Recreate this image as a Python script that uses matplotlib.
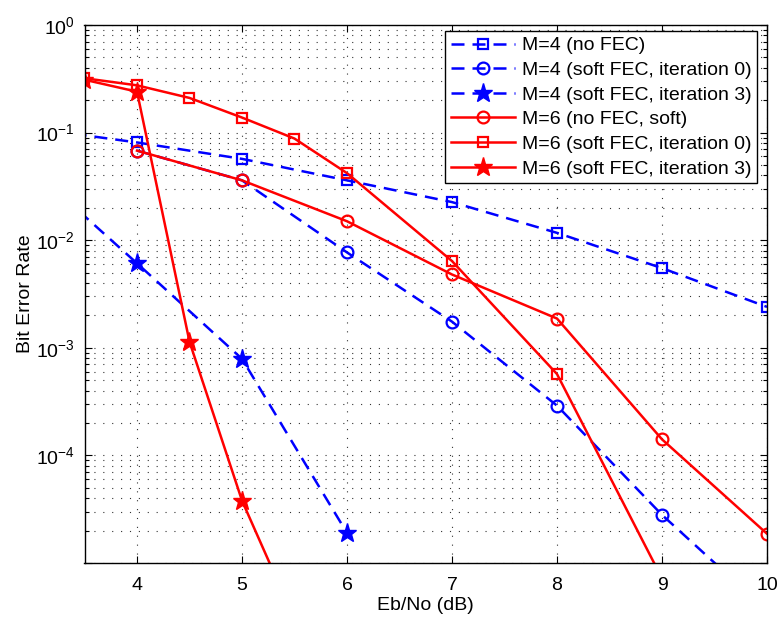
import matplotlib
matplotlib.use("Agg")
import matplotlib.pyplot as plt
from matplotlib.ticker import LogLocator, NullFormatter, FixedLocator, FuncFormatter
import numpy as np

plt.rcParams['font.family'] = ['Liberation Sans', 'DejaVu Sans']
plt.rcParams['mathtext.fontset'] = 'custom'
plt.rcParams['mathtext.rm'] = 'Liberation Sans'

# ---- data ----
x_m4_nofec = [3, 4, 5, 6, 7, 8, 9, 10]
y_m4_nofec = [0.11, 0.081, 0.057, 0.036, 0.0226, 0.0117, 0.0055, 0.0024]

x_m4_it0 = [4, 5, 6, 7, 8, 9, 10]
y_m4_it0 = [0.068, 0.036, 0.0077, 0.00175, 0.00029, 2.8e-5, 3.6e-6]

x_m4_it3 = [3, 4, 5, 6]
y_m4_it3 = [0.046, 0.0061, 0.00079, 1.9e-5]

x_m6_nofec = [4, 5, 6, 7, 8, 9, 10]
y_m6_nofec = [0.068, 0.036, 0.015, 0.0048, 0.00187, 0.000141, 1.87e-5]

x_m6_it0 = [3.5, 4, 4.5, 5, 5.5, 6, 7, 8, 9]
y_m6_it0 = [0.32, 0.275, 0.21, 0.138, 0.088, 0.042, 0.0064, 0.00057, 7.2e-6]

x_m6_it3 = [3.5, 4, 4.5, 5, 5.5]
y_m6_it3 = [0.31, 0.24, 0.00114, 3.8e-5, 3.0e-6]

labels = ["M=4 (no FEC)", "M=4 (soft FEC, iteration 0)", "M=4 (soft FEC, iteration 3)",
          "M=6 (no FEC, soft)", "M=6 (soft FEC, iteration 0)", "M=6 (soft FEC, iteration 3)"]
xticks = [4, 5, 6, 7, 8, 9, 10]

fig = plt.figure(figsize=(7.78, 6.17), dpi=100)
ax = fig.add_axes([84.5/778, 1-563/617, (767-84.5)/778, (563-25)/617])

blue = (0, 0, 1)
red = (1, 0, 0)
lw = 1.8
dash = (0, (5.2, 3.2))
mew = 1.6
fs = 14

ax.semilogy(x_m4_nofec, y_m4_nofec, linestyle=dash, color=blue, lw=lw, marker='s',
            ms=7.5, mfc='none', mew=mew, label=labels[0])
ax.semilogy(x_m4_it0, y_m4_it0, linestyle=dash, color=blue, lw=lw, marker='o',
            ms=8.5, mfc='none', mew=mew, label=labels[1])
ax.semilogy(x_m4_it3, y_m4_it3, linestyle=dash, color=blue, lw=lw, marker='*',
            ms=14, mfc=blue, mew=1, label=labels[2])
ax.semilogy(x_m6_nofec, y_m6_nofec, linestyle='-', color=red, lw=lw, marker='o',
            ms=8.5, mfc='none', mew=mew, label=labels[3])
ax.semilogy(x_m6_it0, y_m6_it0, linestyle='-', color=red, lw=lw, marker='s',
            ms=7.5, mfc='none', mew=mew, label=labels[4])
ax.semilogy(x_m6_it3, y_m6_it3, linestyle='-', color=red, lw=lw, marker='*',
            ms=14, mfc=red, mew=1, label=labels[5])

ax.set_xlim(3.5, 10)
ax.set_ylim(1e-5, 1)
ax.xaxis.set_major_locator(FixedLocator(xticks))
ax.yaxis.set_major_locator(LogLocator(base=10, numticks=10))
ax.yaxis.set_minor_locator(LogLocator(base=10, subs=range(2, 10), numticks=20))
ax.yaxis.set_minor_formatter(NullFormatter())

def yfmt(v, pos):
    e = int(round(np.log10(v)))
    if e < -4:
        return ""
    return r"$\mathdefault{10^{%d}}$" % e if e < 0 else r"$\mathdefault{10^{0}}$"
ax.yaxis.set_major_formatter(FuncFormatter(yfmt))

ax.tick_params(which='both', direction='in', top=True, right=True, labelsize=fs, width=0.8)
ax.tick_params(which='major', length=5)
ax.tick_params(axis='y', which='major', pad=7)
ax.tick_params(axis='x', which='major', pad=10)
ax.tick_params(which='minor', length=3)

grid_ls = (0, (1, 7))
ax.grid(True, which='major', axis='both', color='0.2', linestyle=grid_ls, lw=0.8)
ax.grid(True, which='minor', axis='y', color='0.2', linestyle=grid_ls, lw=0.8)

for s in ax.spines.values():
    s.set_linewidth(1.0)

ax.set_xlabel("Eb/No (dB)", fontsize=fs, labelpad=2)
ax.set_ylabel("Bit Error Rate", fontsize=fs, labelpad=1)

leg = ax.legend(loc='upper right', bbox_to_anchor=(757/778, 1-31/617),
                bbox_transform=fig.transFigure, borderaxespad=0, fontsize=fs,
                fancybox=False, framealpha=1, edgecolor='black', handlelength=3.3,
                handletextpad=0.35, labelspacing=0.36, borderpad=0.3, numpoints=1)
leg.get_frame().set_linewidth(1.0)

fig.savefig("out.png", dpi=100)
